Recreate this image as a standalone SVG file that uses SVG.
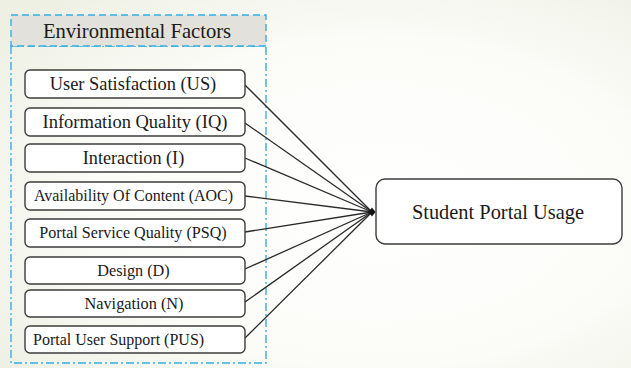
<svg xmlns="http://www.w3.org/2000/svg" width="631" height="368" viewBox="0 0 631 368">
<defs>
<radialGradient id="bg" cx="0.6" cy="0.55" r="0.75">
<stop offset="0" stop-color="#ffffff"/>
<stop offset="0.6" stop-color="#fbfbf7"/>
<stop offset="1" stop-color="#eef0e4"/>
</radialGradient>
</defs>
<style>
.box{fill:#ffffff;stroke:#3c3c3c;stroke-width:1.4}
.con{stroke:#2a2a2a;stroke-width:1.3;fill:none}
.dash{fill:none;stroke:#35aee3;stroke-width:1.4;stroke-dasharray:8 3 2 3}
</style>
<rect width="631" height="368" fill="url(#bg)"/>
<g id="env-factors">
<rect x="11" y="46" width="255" height="317" fill="#f7f8f1" class="dash"/>
<rect x="11" y="15" width="255" height="31" fill="#e3e1db" stroke="#35aee3" stroke-width="1.4" stroke-dasharray="7 4"/>
<text x="137" y="38" text-anchor="middle" fill="#1a1a1a" style="font-family:'Liberation Serif',serif;font-size:20.6px">Environmental Factors</text>
</g>
<g id="connectors">
<line class="con" x1="245" y1="85" x2="372" y2="212"/>
<line class="con" x1="245" y1="123" x2="372" y2="212"/>
<line class="con" x1="245" y1="158" x2="372" y2="212"/>
<line class="con" x1="245" y1="196" x2="372" y2="212"/>
<line class="con" x1="245" y1="232" x2="372" y2="212"/>
<line class="con" x1="245" y1="269" x2="372" y2="212"/>
<line class="con" x1="245" y1="302" x2="372" y2="212"/>
<line class="con" x1="245" y1="338" x2="372" y2="212"/>
<path d="M368.5 212 L372 207.5 L375.5 212 L372 216.5 Z" fill="#111"/>
</g>
<g id="us"><rect class="box" x="25" y="70" width="220" height="28" rx="5"/><text x="133" y="90" text-anchor="middle" fill="#1a1a1a" style="font-family:'Liberation Serif',serif;font-size:18.4px">User Satisfaction (US)</text></g>
<g id="iq"><rect class="box" x="25" y="108" width="220" height="28" rx="5"/><text x="135" y="128" text-anchor="middle" fill="#1a1a1a" style="font-family:'Liberation Serif',serif;font-size:18.5px">Information Quality (IQ)</text></g>
<g id="i"><rect class="box" x="25" y="144" width="220" height="28" rx="5"/><text x="133.5" y="164" text-anchor="middle" fill="#1a1a1a" style="font-family:'Liberation Serif',serif;font-size:18.2px">Interaction (I)</text></g>
<g id="aoc"><rect class="box" x="25" y="182" width="220" height="28" rx="5"/><text x="133.5" y="201" text-anchor="middle" fill="#1a1a1a" style="font-family:'Liberation Serif',serif;font-size:16px">Availability Of Content (AOC)</text></g>
<g id="psq"><rect class="box" x="25" y="219" width="220" height="28" rx="5"/><text x="133" y="238" text-anchor="middle" fill="#1a1a1a" style="font-family:'Liberation Serif',serif;font-size:16.1px">Portal Service Quality (PSQ)</text></g>
<g id="d"><rect class="box" x="25" y="257" width="220" height="27" rx="5"/><text x="133.5" y="276" text-anchor="middle" fill="#1a1a1a" style="font-family:'Liberation Serif',serif;font-size:16.2px">Design (D)</text></g>
<g id="n"><rect class="box" x="25" y="290" width="220" height="27" rx="5"/><text x="134" y="309" text-anchor="middle" fill="#1a1a1a" style="font-family:'Liberation Serif',serif;font-size:16.3px">Navigation (N)</text></g>
<g id="pus"><rect class="box" x="25" y="326" width="220" height="27" rx="5"/><text x="33" y="345" text-anchor="start" fill="#1a1a1a" style="font-family:'Liberation Serif',serif;font-size:16px">Portal User Support (PUS)</text></g>
<g id="spu"><rect class="box" x="376" y="179" width="246" height="65" rx="9"/><text x="498" y="219" text-anchor="middle" fill="#1a1a1a" style="font-family:'Liberation Serif',serif;font-size:20.4px">Student Portal Usage</text></g>
</svg>
